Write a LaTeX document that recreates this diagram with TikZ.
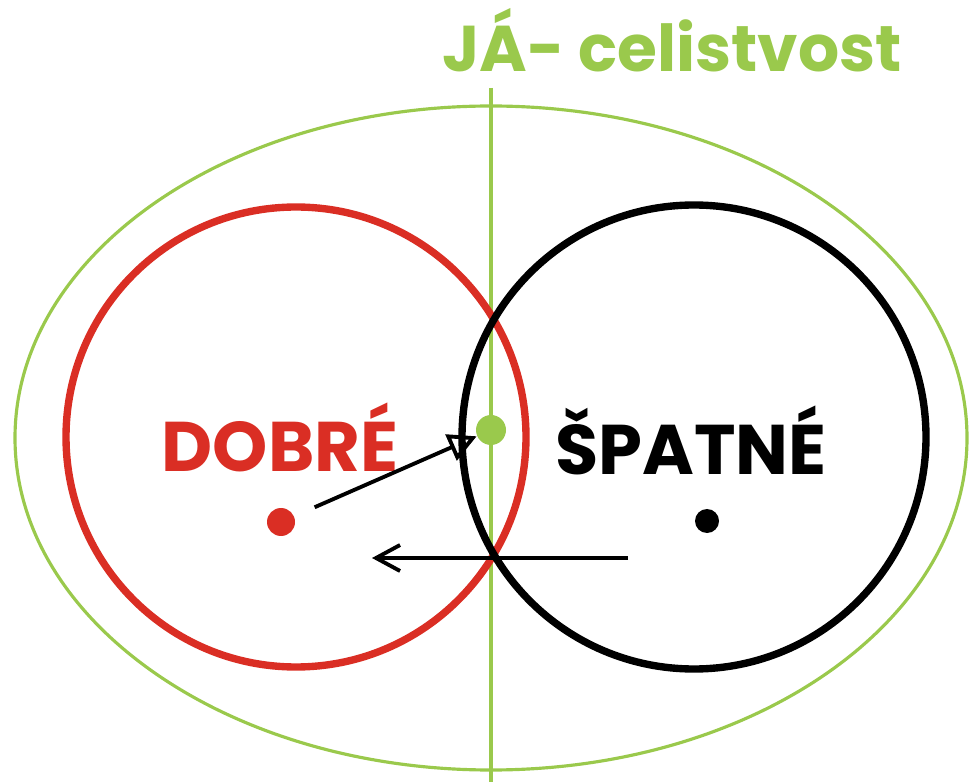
\documentclass[tikz,border=0pt]{standalone}
\usepackage{fontspec}
\setmainfont{Poppins}
\usepackage{tikz}
\usetikzlibrary{arrows.meta, positioning}

\definecolor{jagreen}{RGB}{154,201,76}
\definecolor{dobred}{RGB}{218,46,36}

\tikzset{
	popis/.style={draw=none, fill=none, font=\fontsize{20}{24}\selectfont\bfseries},
	tecka/.style={circle, inner sep=0pt, draw=none},
	sipka/.style={black, line width=1.1pt}
}

\begin{document}
\begin{tikzpicture}
	\useasboundingbox (0,0) rectangle (9.7,7.82);

	%celek
	\draw[jagreen, line width=0.9pt] (4.91,3.44) ellipse (4.76 and 3.32);
	\coordinate (osa1) at (4.91,6.94);
	\coordinate (osa2) at (4.91,0);
	\draw[jagreen, line width=0.9pt] (osa1) -- (osa2);

	%kruhy
	\draw[dobred, line width=2.1pt] (2.96,3.45) circle (2.30);
	\draw[black, line width=2.1pt] (6.94,3.45) circle (2.32);

	%popisy
	\node[popis, text=jagreen, font=\fontsize{18.4}{22}\selectfont\bfseries] (ja) at (6.72,7.42) {JÁ- celistvost};
	\node[popis, text=dobred] (dobre) at (2.80,3.45) {DOBRÉ};
	\node[popis, text=black] (spatne) at (6.91,3.42) {ŠPATNÉ};

	%tecky
	\node[tecka, fill=jagreen, minimum size=0.30cm] (stred) at (4.91,3.52) {};
	\node[tecka, fill=dobred, minimum size=0.28cm] (tdobre) at (2.81,2.60) {};
	\node[tecka, fill=black, minimum size=0.24cm] (tspatne) at (7.07,2.61) {};

	%sipky
	\draw[sipka, -{Triangle[open, length=2.8mm, width=2.8mm]}, shorten <=0.22cm] (tdobre) -- (stred);
	\coordinate (s2a) at (6.28,2.24);
	\coordinate (s2b) at (3.72,2.24);
	\draw[sipka, -{Straight Barb[length=2.4mm, width=2.6mm]}] (s2a) -- (s2b);
\end{tikzpicture}
\end{document}
